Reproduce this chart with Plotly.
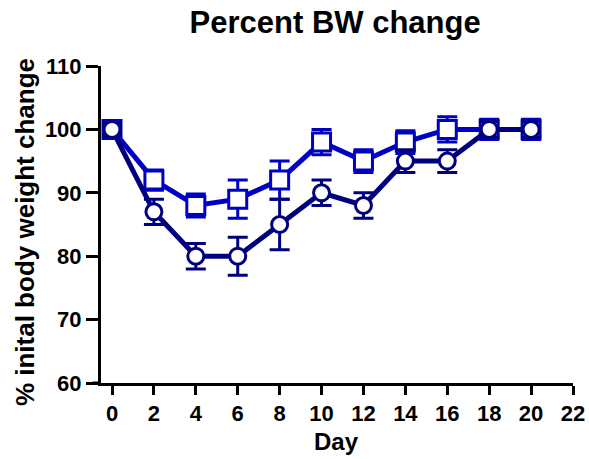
import plotly.graph_objects as go

days = [0, 2, 4, 6, 8, 10, 12, 14, 16, 18, 20]
sq_vals = [100, 92, 88, 89, 92, 98, 95, 98, 100, 100, 100]
sq_err = [1.0, 1.6, 1.8, 3.0, 3.0, 2.0, 1.8, 1.8, 2.0, 1.6, 1.6]
ci_vals = [100, 87, 80, 80, 85, 90, 88, 95, 95, 100, 100]
ci_err = [1.0, 2.0, 2.0, 3.0, 4.0, 2.0, 2.0, 1.8, 1.8, 1.2, 1.2]
x_ticks = list(range(0, 23, 2))
y_ticks = [60, 70, 80, 90, 100, 110]

SQ_COLOR = "#0000C4"
CI_COLOR = "#00007E"
FONT = "Arial, Liberation Sans, sans-serif"

fig = go.Figure()
fig.add_trace(go.Scatter(
    x=days, y=sq_vals, mode="lines+markers",
    line=dict(color=SQ_COLOR, width=5),
    marker=dict(symbol="square", size=18, color="white",
                line=dict(color=SQ_COLOR, width=3)),
    error_y=dict(type="data", array=sq_err, color=SQ_COLOR, thickness=3, width=10),
    showlegend=False,
))
fig.add_trace(go.Scatter(
    x=days, y=ci_vals, mode="lines+markers",
    line=dict(color=CI_COLOR, width=5),
    marker=dict(symbol="circle", size=16, color="white",
                line=dict(color=CI_COLOR, width=3)),
    error_y=dict(type="data", array=ci_err, color=CI_COLOR, thickness=3, width=10),
    showlegend=False,
))

# small left extension of the x axis line (GraphPad style)
fig.add_shape(type="line", xref="paper", yref="paper", x0=-0.018, x1=0, y0=0, y1=0,
              line=dict(color="black", width=3))

# axis titles as annotations (positioned like the reference)
fig.add_annotation(text="<b>% inital body weight change</b>", textangle=-90,
                   xref="paper", yref="paper", x=-0.161, y=0.476,
                   xanchor="center", yanchor="middle", showarrow=False,
                   font=dict(size=26, family=FONT, color="black"))
fig.add_annotation(text="<b>Day</b>",
                   xref="paper", yref="paper", x=0.498, y=-0.186,
                   xanchor="center", yanchor="middle", showarrow=False,
                   font=dict(size=24, family=FONT, color="black"))

fig.update_layout(
    width=589, height=459,
    margin=dict(l=101, r=16, t=66, b=76),
    plot_bgcolor="white", paper_bgcolor="white",
    font=dict(family=FONT, color="black"),
    title=dict(text="<b>Percent BW change</b>", x=0.569, xanchor="center",
               y=0.952, yanchor="middle", font=dict(size=31, family=FONT)),
    xaxis=dict(
        range=[-0.525, 22], tickmode="array", tickvals=x_ticks,
        ticktext=[f"<b>{v}</b>" for v in x_ticks], automargin=False,
        showgrid=False, zeroline=False, showline=True, linecolor="black", linewidth=3,
        ticks="outside", ticklen=9, tickwidth=3, tickcolor="black",
        tickfont=dict(size=22, family=FONT),
    ),
    yaxis=dict(
        range=[60, 110], tickmode="array", tickvals=y_ticks,
        ticktext=[f"<b>{v}</b>" for v in y_ticks], automargin=False,
        showgrid=False, zeroline=False, showline=True, linecolor="black", linewidth=3,
        ticks="outside", ticklen=12, tickwidth=3, tickcolor="black",
        tickfont=dict(size=22, family=FONT),
    ),
)

fig.write_html("out.html")
